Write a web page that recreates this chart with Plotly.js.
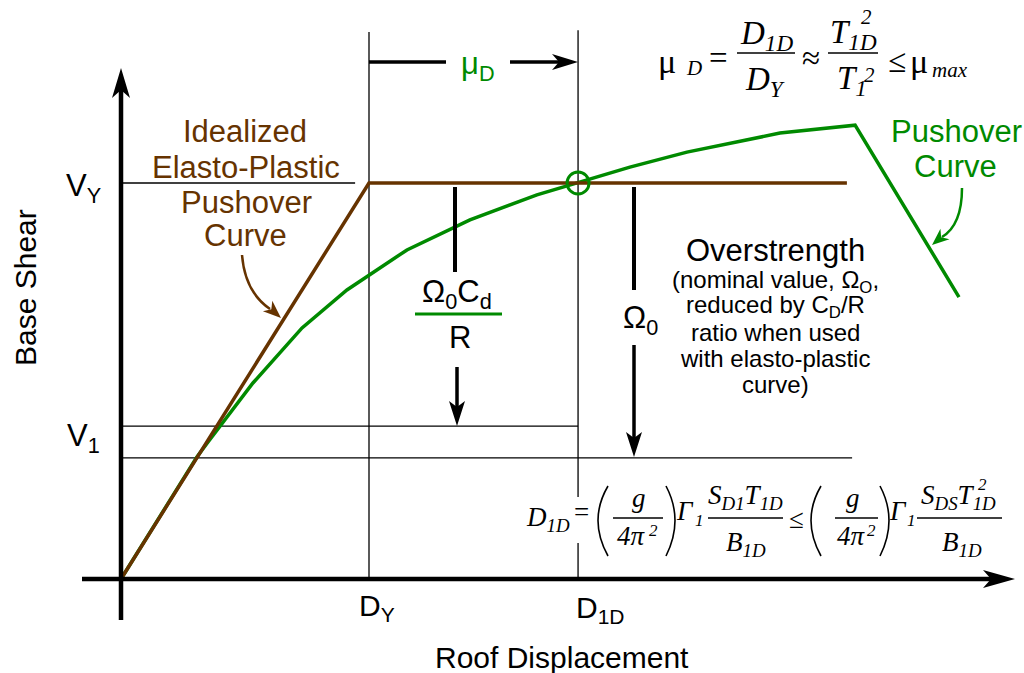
<!DOCTYPE html>
<html><head><meta charset="utf-8">
<script src="https://cdn.plot.ly/plotly-3.0.1.min.js"></script>
<style>html,body{margin:0;padding:0;background:#fff;overflow:hidden}</style>
</head><body><div id="chart" style="width:1024px;height:673px"></div>
<script>
// ---------------- data (displacement in units of D_Y, shear in units of V_Y) ----------------
const pushoverDisp  = [0, 0.306, 0.351, 0.532, 0.730, 0.911, 1.153, 1.407, 1.677, 1.843, 2.052, 2.282, 2.657, 2.960, 3.379];
const pushoverShear = [0, 0.308, 0.346, 0.495, 0.634, 0.730, 0.831, 0.907, 0.970, 1.000, 1.040, 1.078, 1.126, 1.146, 0.712];
const elastoDisp  = [0, 1.0, 2.927];
const elastoShear = [0, 1.0, 1.0];
const DY = 1.0, D1D = 1.843;
const VY = 1.0, V1_UPPER = 0.386, V1_LOWER = 0.306;
const xTickLabels = ['D<sub>Y</sub>', 'D<sub>1D</sub>'];
const yTickLabels = ['V<sub>Y</sub>', 'V<sub>1</sub>'];

// ---------------- geometry / style ----------------
const W = 1024, H = 673;
const ORIGIN_X = 121, ORIGIN_Y = 579, PX_PER_X = 248, PX_PER_Y = 396;
const xRange = [-ORIGIN_X / PX_PER_X, (W - ORIGIN_X) / PX_PER_X];
const yRange = [-(H - ORIGIN_Y) / PX_PER_Y, ORIGIN_Y / PX_PER_Y];
const GREEN = '#008a00', BROWN = '#663300', BLACK = '#000000';
const SANS = 'Liberation Sans, Arial, sans-serif';
const SERIF = 'Liberation Serif, Times New Roman, serif';

const px = x => x / W;
const py = y => 1 - y / H;

function T(text, x, y, size, color, family, extra) {
  return Object.assign({
    text: text, x: px(x), y: py(y), xref: 'paper', yref: 'paper',
    showarrow: false, xanchor: 'center', yanchor: 'middle',
    font: { family: family || SANS, size: size, color: color || BLACK }
  }, extra || {});
}
function TD(text, xd, yd, xs, ys, size) {
  return {
    text: text, x: xd, y: yd, xref: 'x', yref: 'y', xshift: xs, yshift: ys,
    showarrow: false, xanchor: 'center', yanchor: 'middle',
    font: { family: SANS, size: size, color: BLACK }
  };
}
function L(x0, y0, x1, y1, color, width) {
  return { type: 'line', xref: 'paper', yref: 'paper', x0: px(x0), y0: py(y0), x1: px(x1), y1: py(y1),
           line: { color: color, width: width } };
}
function head(tx, ty, dx, dy, len, hw, notch, color) {
  const n = Math.hypot(dx, dy); dx /= n; dy /= n;
  const bx = tx - dx * len, by = ty - dy * len, nx = -dy, ny = dx;
  const pts = [[tx, ty], [bx + nx * hw, by + ny * hw], [tx - dx * (len - notch), ty - dy * (len - notch)], [bx - nx * hw, by - ny * hw]];
  return { type: 'path', xref: 'paper', yref: 'paper',
           path: 'M' + pts.map(p => px(p[0]) + ',' + py(p[1])).join('L') + 'Z',
           fillcolor: color, line: { width: 0, color: color } };
}
function Q(x0, y0, cx, cy, x1, y1, color, width) {
  return { type: 'path', xref: 'paper', yref: 'paper',
           path: 'M' + px(x0) + ',' + py(y0) + ' Q' + px(cx) + ',' + py(cy) + ' ' + px(x1) + ',' + py(y1),
           line: { color: color, width: width } };
}

// ---------------- traces ----------------
const traces = [
  { x: pushoverDisp, y: pushoverShear, type: 'scatter', mode: 'lines',
    line: { color: GREEN, width: 3.5 }, hoverinfo: 'skip' },
  { x: elastoDisp, y: elastoShear, type: 'scatter', mode: 'lines',
    line: { color: BROWN, width: 3.5 }, hoverinfo: 'skip' },
  { x: [D1D], y: [VY], type: 'scatter', mode: 'markers',
    marker: { symbol: 'circle-open', size: 22, color: GREEN, line: { width: 3, color: GREEN } }, hoverinfo: 'skip' }
];

// ---------------- shapes ----------------
const thin = { color: BLACK, width: 1.3 };
const shapes = [
  // reference lines in data coordinates
  { type: 'line', xref: 'x', yref: 'y', x0: 0, x1: 0.944, y0: VY, y1: VY, line: thin, layer: 'below' },
  { type: 'line', xref: 'x', yref: 'y', x0: 0, x1: D1D, y0: V1_UPPER, y1: V1_UPPER, line: thin, layer: 'below' },
  { type: 'line', xref: 'x', yref: 'y', x0: 0, x1: 2.948, y0: V1_LOWER, y1: V1_LOWER, line: thin, layer: 'below' },
  { type: 'line', xref: 'x', yref: 'y', x0: DY, x1: DY, y0: 0, y1: 1.381, line: thin, layer: 'below' },
  { type: 'line', xref: 'x', yref: 'y', x0: D1D, x1: D1D, y0: 0, y1: 0.091, line: thin, layer: 'below' },
  { type: 'line', xref: 'x', yref: 'y', x0: D1D, x1: D1D, y0: 0.207, y1: 1.386, line: thin, layer: 'below' },
  // axes
  L(121, 620, 121, 90, BLACK, 4.5), head(121, 68, 0, -1, 30, 9, 8, BLACK),
  L(82, 579, 995, 579, BLACK, 4.5), head(1015, 579, 1, 0, 32, 9, 8, BLACK),
  // mu_D dimension arrow
  L(369, 62, 446, 62, BLACK, 3.5), L(510, 62, 562, 62, BLACK, 3.5), head(578, 62, 1, 0, 26, 8, 7, BLACK),
  // Omega0 Cd / R
  L(455, 187, 455, 272, BLACK, 4), L(457, 367, 457, 412, BLACK, 3.5), head(457, 426, 0, 1, 25, 8, 6, BLACK),
  L(415, 314, 502, 314, GREEN, 3),
  // Omega0
  L(634, 187, 634, 290, BLACK, 4), L(634, 345, 634, 444, BLACK, 3.5), head(634, 457, 0, 1, 25, 8, 6, BLACK),
  // curved pointer arrows
  Q(242, 255, 245, 292, 270, 309, BROWN, 2.5), head(281, 318, 1, 0.9, 18, 7, 5, BROWN),
  Q(962, 188, 962, 225, 942, 237, GREEN, 2.5), head(932, 245, -1, 0.85, 17, 7, 5, GREEN),
  // top formula fraction bars
  L(737, 53, 795, 53, BLACK, 1.6), L(828, 53, 878, 53, BLACK, 1.6),
  // bottom formula
  Q(608, 486, 588, 520, 608, 556, BLACK, 1.6), Q(666, 486, 684, 520, 666, 556, BLACK, 1.6),
  L(613, 518, 663, 518, BLACK, 1.5), L(708, 518, 783, 518, BLACK, 1.5),
  Q(821, 486, 801, 520, 821, 556, BLACK, 1.6), Q(880, 486, 898, 520, 880, 556, BLACK, 1.6),
  L(835, 518, 878, 518, BLACK, 1.5), L(917, 518, 1002, 518, BLACK, 1.5)
];

// ---------------- annotations ----------------
const annotations = [
  // axis tick labels (anchored to data values)
  TD(xTickLabels[0], DY, 0, 8, -28, 30),
  TD(xTickLabels[1], D1D, 0, 22, -30, 30),
  TD(yTickLabels[0], 0, VY, -38, -5, 31),
  TD(yTickLabels[1], 0, V1_UPPER, -38, -12, 31),
  // axis titles
  T('Roof Displacement', 562, 657, 30),
  T('Base Shear', 25, 288, 30, BLACK, SANS, { textangle: -90 }),
  // brown label
  T('Idealized', 245, 132, 31, BROWN), T('Elasto-Plastic', 246, 167, 31, BROWN),
  T('Pushover', 246, 202, 31, BROWN), T('Curve', 245, 236, 31, BROWN),
  // green label
  T('Pushover', 956, 132, 31, GREEN), T('Curve', 955, 166, 31, GREEN),
  // mu_D
  T('μ<sub>D</sub>', 478, 66, 31, GREEN),
  // Omega labels
  T('Ω<sub>0</sub>C<sub>d</sub>', 457, 294, 31), T('R', 460, 337, 31),
  T('Ω<sub>0</sub>', 640, 320, 31),
  // overstrength text
  T('Overstrength', 775, 250, 31),
  T('(nominal value, Ω<sub>O</sub>,', 775, 281, 24),
  T('reduced by C<sub>D</sub>/R', 775, 307, 24),
  T('ratio when used', 775, 332, 24),
  T('with elasto-plastic', 775, 358, 24),
  T('curve)', 775, 384, 24),
  // top formula
  T('μ', 667, 61, 34, BLACK, SERIF),
  T('<i>D</i>', 694, 68, 21, BLACK, SERIF),
  T('=', 718, 58, 33, BLACK, SERIF),
  T('<i>D<sub>1D</sub></i>', 766, 35, 33, BLACK, SERIF),
  T('<i>D<sub>Y</sub></i>', 765, 81, 33, BLACK, SERIF),
  T('≈', 811, 58, 33, BLACK, SERIF),
  T('<i>T<sub>1D</sub></i>', 853, 34, 33, BLACK, SERIF),
  T('<i>2</i>', 866, 17, 21, BLACK, SERIF),
  T('<i>T<sub>1</sub></i>', 852, 80, 33, BLACK, SERIF),
  T('<i>2</i>', 869, 75, 21, BLACK, SERIF),
  T('≤', 897, 61, 33, BLACK, SERIF),
  T('μ', 919, 61, 34, BLACK, SERIF),
  T('<i>max</i>', 950, 70, 21, BLACK, SERIF),
  // bottom formula
  T('<i>D<sub>1D</sub></i>', 548, 519, 27, BLACK, SERIF),
  T('=', 581, 512, 27, BLACK, SERIF),
  T('<i>g</i>', 639, 498, 27, BLACK, SERIF),
  T('<i>4π</i>', 631, 536, 27, BLACK, SERIF),
  T('<i>2</i>', 653, 530, 17, BLACK, SERIF),
  T('<i>Γ</i>', 685, 511, 27, BLACK, SERIF),
  T('<i>1</i>', 699, 520, 17, BLACK, SERIF),
  T('<i>S<sub>D1</sub>T<sub>1D</sub></i>', 745, 497, 27, BLACK, SERIF),
  T('<i>B<sub>1D</sub></i>', 746, 544, 27, BLACK, SERIF),
  T('≤', 796, 519, 27, BLACK, SERIF),
  T('<i>g</i>', 853, 498, 27, BLACK, SERIF),
  T('<i>4π</i>', 851, 536, 27, BLACK, SERIF),
  T('<i>2</i>', 871, 530, 17, BLACK, SERIF),
  T('<i>Γ</i>', 898, 511, 27, BLACK, SERIF),
  T('<i>1</i>', 911, 520, 17, BLACK, SERIF),
  T('<i>S<sub>DS</sub>T<sub>1D</sub></i>', 958, 497, 27, BLACK, SERIF),
  T('<i>2</i>', 982, 484, 17, BLACK, SERIF),
  T('<i>B<sub>1D</sub></i>', 962, 544, 27, BLACK, SERIF)
];

const layout = {
  width: W, height: H, margin: { l: 0, r: 0, t: 0, b: 0 },
  paper_bgcolor: '#ffffff', plot_bgcolor: '#ffffff', showlegend: false,
  xaxis: { range: xRange, visible: false, fixedrange: true },
  yaxis: { range: yRange, visible: false, fixedrange: true },
  shapes: shapes, annotations: annotations
};

Plotly.newPlot('chart', traces, layout, { staticPlot: true, displayModeBar: false });
</script>
</body></html>
